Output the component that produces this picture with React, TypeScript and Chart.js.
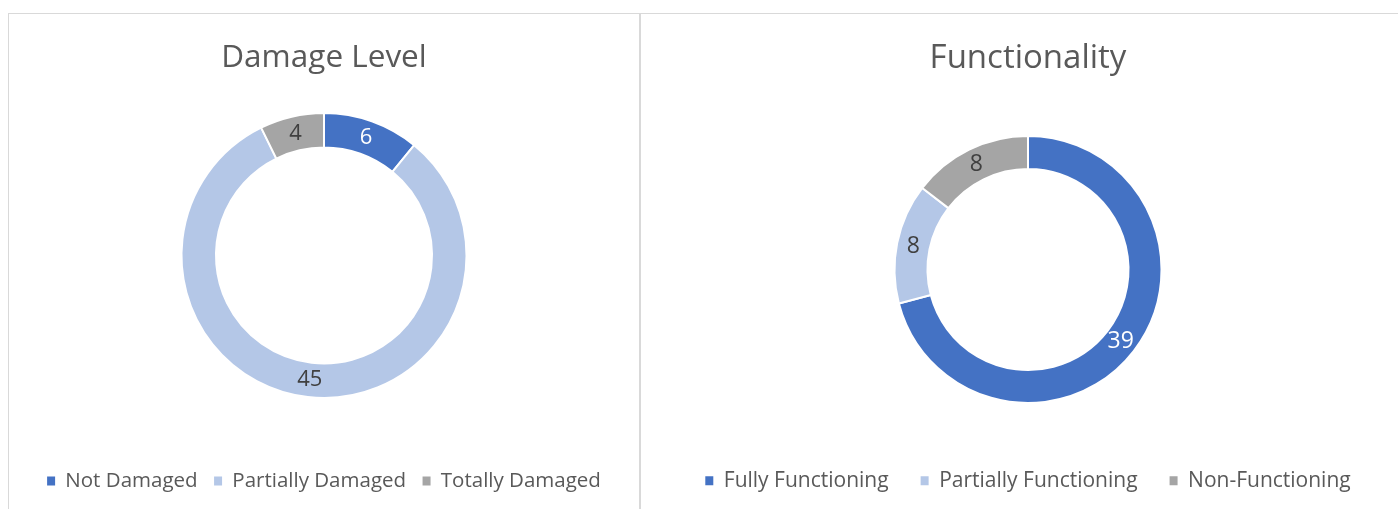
import React, { useEffect, useRef } from "react";
import { Chart, registerables } from "chart.js";

Chart.register(...registerables);

// ---- data ----
const damageTitle = "Damage Level";
const damageLabels = ["Not Damaged", "Partially Damaged", "Totally Damaged"];
const damageValues = [6, 45, 4];

const functionTitle = "Functionality";
const functionLabels = ["Fully Functioning", "Partially Functioning", "Non-Functioning"];
const functionValues = [39, 8, 8];

const sliceColors = ["#4472C4", "#B4C7E7", "#A5A5A5"];
const valueLabelColors = ["#FFFFFF", "#404040", "#404040"];

const FONT = "'Open Sans', sans-serif";
const TEXT_COLOR = "#595959";

const valueLabelPlugin = {
  id: "valueLabels",
  afterDatasetsDraw(chart: any, _args: any, opts: any) {
    const ctx = chart.ctx;
    const meta = chart.getDatasetMeta(0);
    const data = chart.data.datasets[0].data;
    ctx.save();
    ctx.font = `${opts.size || 22}px ${FONT}`;
    ctx.textAlign = "center";
    ctx.textBaseline = "middle";
    meta.data.forEach((arc: any, i: number) => {
      const p = arc.getCenterPoint();
      ctx.fillStyle = valueLabelColors[i];
      ctx.fillText(String(data[i]), p.x, p.y);
    });
    ctx.restore();
  },
};

type PanelProps = {
  title: string;
  labels: string[];
  values: number[];
  width: number;
  height: number;
  radius: number;
  cutout: string;
  titleSize: number;
  legendSize: number;
  labelSize: number;
  legendGap: number;
  legendSpacer: number;
  titlePadTop: number;
  titlePadBottom: number;
};

function DoughnutPanel(p: PanelProps) {
  const ref = useRef<HTMLCanvasElement | null>(null);
  useEffect(() => {
    if (!ref.current) return;
    const baseGen = (Chart as any).overrides.doughnut.plugins.legend.labels.generateLabels;
    const chart = new Chart(ref.current, {
      type: "doughnut",
      data: {
        labels: p.labels,
        datasets: [
          {
            data: p.values,
            backgroundColor: sliceColors,
            borderColor: "#FFFFFF",
            borderWidth: 2,
            radius: p.radius,
            hoverOffset: 0,
          } as any,
        ],
      },
      options: {
        responsive: false,
        animation: false,
        cutout: p.cutout,
        events: [],
        layout: { padding: { bottom: 7.75 } },
        plugins: {
          valueLabels: { size: p.labelSize },
          title: {
            display: true,
            text: p.title,
            color: TEXT_COLOR,
            font: { family: FONT, size: p.titleSize, weight: "normal" as any },
            padding: { top: p.titlePadTop, bottom: p.titlePadBottom },
          },
          legend: {
            display: true,
            position: "bottom",
            labels: {
              color: TEXT_COLOR,
              font: { family: FONT, size: p.legendSize },
              boxWidth: 8,
              boxHeight: 9,
              padding: p.legendGap,
              generateLabels: (c: any) =>
                baseGen(c).map((it: any) => ({ ...it, lineWidth: 0, strokeStyle: "rgba(0,0,0,0)" })),
            },
            title: {
              display: p.legendSpacer > 0,
              text: "",
              font: { size: 1 },
              padding: { top: p.legendSpacer, bottom: 0 },
            },
          },
          tooltip: { enabled: false },
        },
      } as any,
      plugins: [valueLabelPlugin],
    });
    return () => chart.destroy();
  }, []);
  return (
    <canvas
      ref={ref}
      width={p.width}
      height={p.height}
      style={{ display: "block", width: p.width, height: p.height }}
    />
  );
}

export default function App() {
  return (
    <div
      style={{
        position: "fixed",
        left: 0,
        top: 0,
        width: 1398,
        height: 509,
        overflow: "hidden",
        background: "#FFFFFF",
      }}
    >
      <div
        style={{
          position: "absolute",
          left: 8,
          top: 13,
          width: 632,
          height: 600,
          border: "1px solid #D9D9D9",
          boxSizing: "border-box",
          background: "#FFFFFF",
        }}
      >
        <DoughnutPanel
          title={damageTitle}
          labels={damageLabels}
          values={damageValues}
          width={630}
          height={495}
          radius={142.5}
          cutout="75.8%"
          titleSize={31.5}
          legendSize={20.5}
          labelSize={22}
          legendGap={16.5}
          legendSpacer={46.05}
          titlePadTop={25.4}
          titlePadBottom={26.8}
        />
      </div>
      <div
        style={{
          position: "absolute",
          left: 640,
          top: 13,
          width: 800,
          height: 600,
          border: "1px solid #D9D9D9",
          boxSizing: "border-box",
          background: "#FFFFFF",
        }}
      >
        <DoughnutPanel
          title={functionTitle}
          labels={functionLabels}
          values={functionValues}
          width={774}
          height={495}
          radius={133.5}
          cutout="75.3%"
          titleSize={33}
          legendSize={21}
          labelSize={23}
          legendGap={32}
          legendSpacer={1.55}
          titlePadTop={24.5}
          titlePadBottom={25.4}
        />
      </div>
    </div>
  );
}
